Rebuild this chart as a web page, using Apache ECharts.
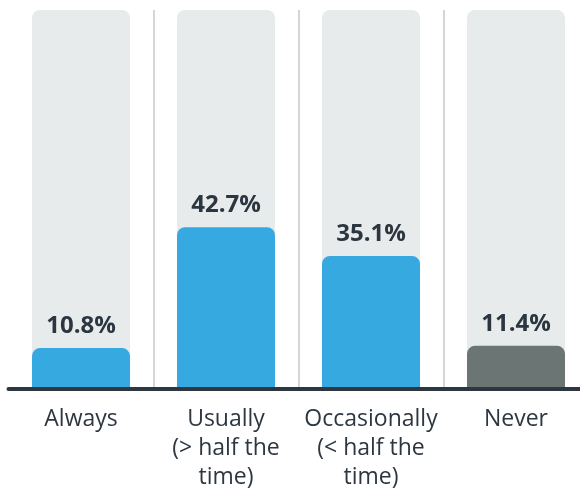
<!DOCTYPE html>
<html>
<head>
<meta charset="utf-8">
<script src="https://cdn.jsdelivr.net/npm/echarts@6/dist/echarts.min.js"></script>
<style>
  html, body { margin: 0; padding: 0; background: #ffffff; }
  #chart { width: 580px; height: 491px; }
</style>
</head>
<body>
<div id="chart"></div>
<script>
// Share of respondents per answer
const categories = ['Always', 'Usually\n(> half the\ntime)', 'Occasionally\n(< half the\ntime)', 'Never'];
const values = [10.8, 42.7, 35.1, 11.4];
const fullScale = [100, 100, 100, 100];
const barColors = ['#36a9e1', '#36a9e1', '#36a9e1', '#6b7674'];

const chart = echarts.init(document.getElementById('chart'));
chart.setOption({
  animation: false,
  textStyle: { fontFamily: 'Open Sans' },
  grid: {
    left: 8.5, width: 580, top: 10, bottom: 102,
    containLabel: false, outerBoundsMode: 'none'
  },
  xAxis: {
    type: 'category',
    data: categories,
    axisLine: { show: true, lineStyle: { color: '#2d3741', width: 4 } },
    axisTick: { show: false },
    axisLabel: {
      interval: 0,
      color: '#2d3741', fontSize: 23, lineHeight: 29, margin: 16,
      fontFamily: 'Open Sans'
    },
    splitLine: {
      show: true, interval: 0, showMinLine: false, showMaxLine: false,
      lineStyle: { color: '#c8c8c8', width: 1.5 }
    },
    z: 10
  },
  yAxis: {
    type: 'value', min: 0, max: 100,
    show: false, splitLine: { show: false }
  },
  series: [
    {
      type: 'bar',
      data: fullScale,
      barWidth: 98,
      itemStyle: { color: '#e8ebec', borderRadius: [8, 8, 0, 0] },
      silent: true,
      z: 1
    },
    {
      type: 'bar',
      data: values.map((v, i) => ({ value: v, itemStyle: { color: barColors[i] } })),
      barWidth: 98,
      barGap: '-100%',
      itemStyle: { borderRadius: [8, 8, 0, 0] },
      label: {
        show: true, position: 'top', distance: 10,
        formatter: p => p.value.toFixed(1) + '%',
        color: '#2b3640', fontSize: 24, fontWeight: 'bold',
        fontFamily: 'Open Sans'
      },
      z: 2
    }
  ]
});
</script>
</body>
</html>
